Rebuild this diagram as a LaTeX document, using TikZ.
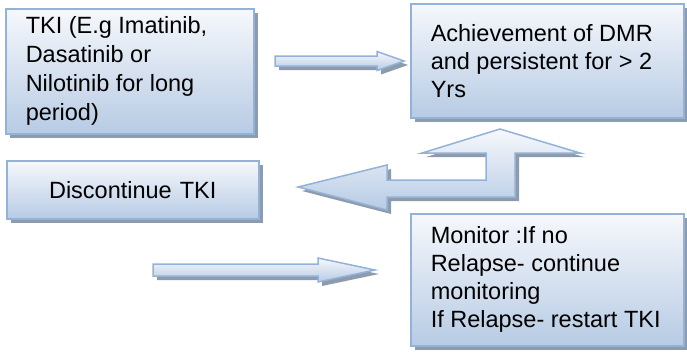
\documentclass[tikz,border=0pt]{standalone}
\usepackage{fontspec}
\setmainfont{Liberation Sans}
\usetikzlibrary{calc,shadows}

\definecolor{boxline}{HTML}{93B2D8}
\definecolor{boxtop}{HTML}{F6F8FC}
\definecolor{boxbottom}{HTML}{B7CBE4}
\definecolor{shadowgray}{HTML}{8E9BAC}

% horizontal block arrow: start, tip, half shaft, half head, head length
\newcommand{\blockarrow}[5]{%
    \draw[blockarrow] ($(#1)+(0,-#3)$) -- ($(#2)+(-#5,-#3)$) -- ($(#2)+(-#5,-#4)$)
        -- (#2) -- ($(#2)+(-#5,#4)$) -- ($(#2)+(-#5,#3)$) -- ($(#1)+(0,#3)$) -- cycle;}

\begin{document}
\begin{tikzpicture}[x=1pt, y=-1pt,
    flat/.style={draw=boxline, line width=1.5pt, top color=boxtop, bottom color=boxbottom,
        drop shadow={shadow xshift=4pt, shadow yshift=-4pt, fill=shadowgray, opacity=1}},
    box/.style={flat, anchor=north west, align=left, inner xsep=20pt,
        font=\fontsize{23.5}{28}\selectfont, execute at begin node={\spaceskip=0pt\relax}},
    blockarrow/.style={flat}]
    \useasboundingbox (0,0) rectangle (687,351);

    % boxes
    \node[box, text width=208pt, minimum width=248pt, minimum height=125pt,
        font=\fontsize{23.5}{29}\selectfont] (tki) at (5,8)
        {TKI (E.g Imatinib,\\Dasatinib or\\Nilotinib for long\\period)};
    \node[box, text width=233pt, minimum width=273pt, minimum height=114pt] (dmr) at (410,3)
        {Achievement of DMR\\and persistent for > 2\\Yrs};
    \node[box, align=center, text width=212pt, minimum width=252pt, minimum height=58pt] (stop) at (6,160)
        {Discontinue TKI};
    \node[box, text width=233pt, minimum width=273pt, minimum height=132pt] (monitor) at (410,213)
        {Monitor :If no\\Relapse- continue\\monitoring\\\mbox{If Relapse- restart TKI}};

    % arrow tki -> dmr
    \coordinate (a1s) at (275,61);
    \coordinate (a1e) at (404,61);
    \blockarrow{a1s}{a1e}{5}{9.5}{27}

    % bent arrow: up to dmr and left to stop
    \draw[blockarrow] (298,187) -- (387,165) -- (387,180) -- (486,180) -- (486,153)
        -- (422,153) -- (500,129) -- (580,153) -- (515,153) -- (515,197)
        -- (387,197) -- (387,210) -- cycle;

    % arrow -> monitor
    \coordinate (a2s) at (153,270);
    \coordinate (a2e) at (375,270);
    \blockarrow{a2s}{a2e}{6}{12}{57}
\end{tikzpicture}
\end{document}
